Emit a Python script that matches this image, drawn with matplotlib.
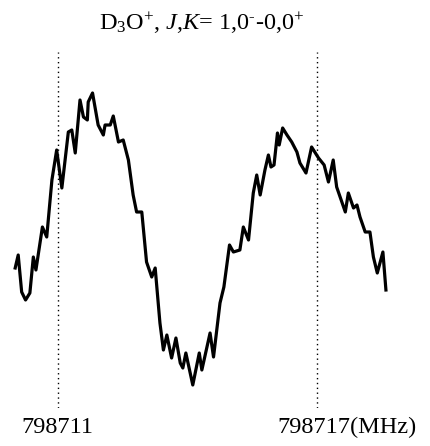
import matplotlib
matplotlib.use("Agg")
import matplotlib.pyplot as plt

# traced spectrum (frequency in MHz, intensity in arbitrary units)
freq = [798710.02, 798710.09, 798710.17, 798710.26, 798710.36,
        798710.44, 798710.50, 798710.65, 798710.75, 798710.87,
        798710.98, 798711.10, 798711.25, 798711.33, 798711.41,
        798711.52, 798711.60, 798711.69, 798711.71, 798711.81,
        798711.94, 798712.06, 798712.10, 798712.22, 798712.29,
        798712.41, 798712.52, 798712.64, 798712.75, 798712.83,
        798712.95, 798713.06, 798713.18, 798713.26, 798713.37,
        798713.45, 798713.53, 798713.64, 798713.74, 798713.84,
        798713.90, 798713.97, 798714.13, 798714.28, 798714.34,
        798714.53, 798714.61, 798714.76, 798714.85, 798714.98,
        798715.07, 798715.22, 798715.30, 798715.42, 798715.53,
        798715.61, 798715.69, 798715.80, 798715.88, 798715.94,
        798716.01, 798716.09, 798716.13, 798716.21, 798716.31,
        798716.42, 798716.54, 798716.61, 798716.75, 798716.88,
        798717.04, 798717.17, 798717.27, 798717.38, 798717.46,
        798717.66, 798717.73, 798717.85, 798717.93, 798718.00,
        798718.12, 798718.23, 798718.31, 798718.40, 798718.53,
        798718.60]
inten = [1.32, 1.45, 1.08, 1.00, 1.07,
         1.43, 1.30, 1.73, 1.63, 2.20,
         2.50, 2.12, 2.68, 2.70, 2.47,
         3.00, 2.83, 2.80, 2.98, 3.07,
         2.75, 2.65, 2.75, 2.75, 2.84,
         2.58, 2.60, 2.40, 2.05, 1.88,
         1.88, 1.38, 1.23, 1.32, 0.77,
         0.50, 0.65, 0.42, 0.62, 0.37,
         0.32, 0.47, 0.15, 0.47, 0.30,
         0.67, 0.43, 0.97, 1.13, 1.55,
         1.48, 1.50, 1.73, 1.60, 2.07,
         2.25, 2.05, 2.30, 2.45, 2.33,
         2.35, 2.67, 2.55, 2.72, 2.65,
         2.58, 2.48, 2.37, 2.27, 2.53,
         2.42, 2.35, 2.18, 2.40, 2.13,
         1.88, 2.07, 1.92, 1.95, 1.83,
         1.68, 1.68, 1.43, 1.27, 1.48,
         1.10]

marks = [798711, 798717]

plt.rcParams["font.family"] = ["Liberation Serif", "DejaVu Serif"]
plt.rcParams["mathtext.fontset"] = "custom"
plt.rcParams["mathtext.rm"] = "Liberation Serif"
plt.rcParams["mathtext.it"] = "Liberation Serif:italic"

fig = plt.figure(figsize=(4.3, 4.46), dpi=100)
ax = fig.add_axes([10 / 430, 38 / 446, 385 / 430, 356 / 446])

ax.plot(freq, inten, color="black", lw=2.3, solid_joinstyle="round")
for m in marks:
    ax.axvline(m, color="black", lw=1.0, linestyle=(0, (1, 2.5)))

ax.set_xlim(798709.90, 798718.81)
ax.set_ylim(-0.08, 3.48)
ax.axis("off")

fig.text(201.5 / 430, 416 / 446,
         r"D$_3$O$^{\mathrm{+}}$, $J$,$K$= 1,0$^{\mathrm{‐}}$-0,0$^{\mathrm{+}}$",
         ha="center", va="baseline", fontsize=17.5)

# frequency labels under the dotted lines
x0 = ax.transData.transform((marks[0], 0))[0] / 430
x1 = ax.transData.transform((marks[1], 0))[0] / 430
fig.text(x0, 13 / 446, "798711", ha="center", va="baseline", fontsize=17.5)
fig.text(x1 - 39 / 430, 13 / 446, "798717(MHz)", ha="left", va="baseline",
         fontsize=17.5)

fig.savefig("out.png", dpi=100)
